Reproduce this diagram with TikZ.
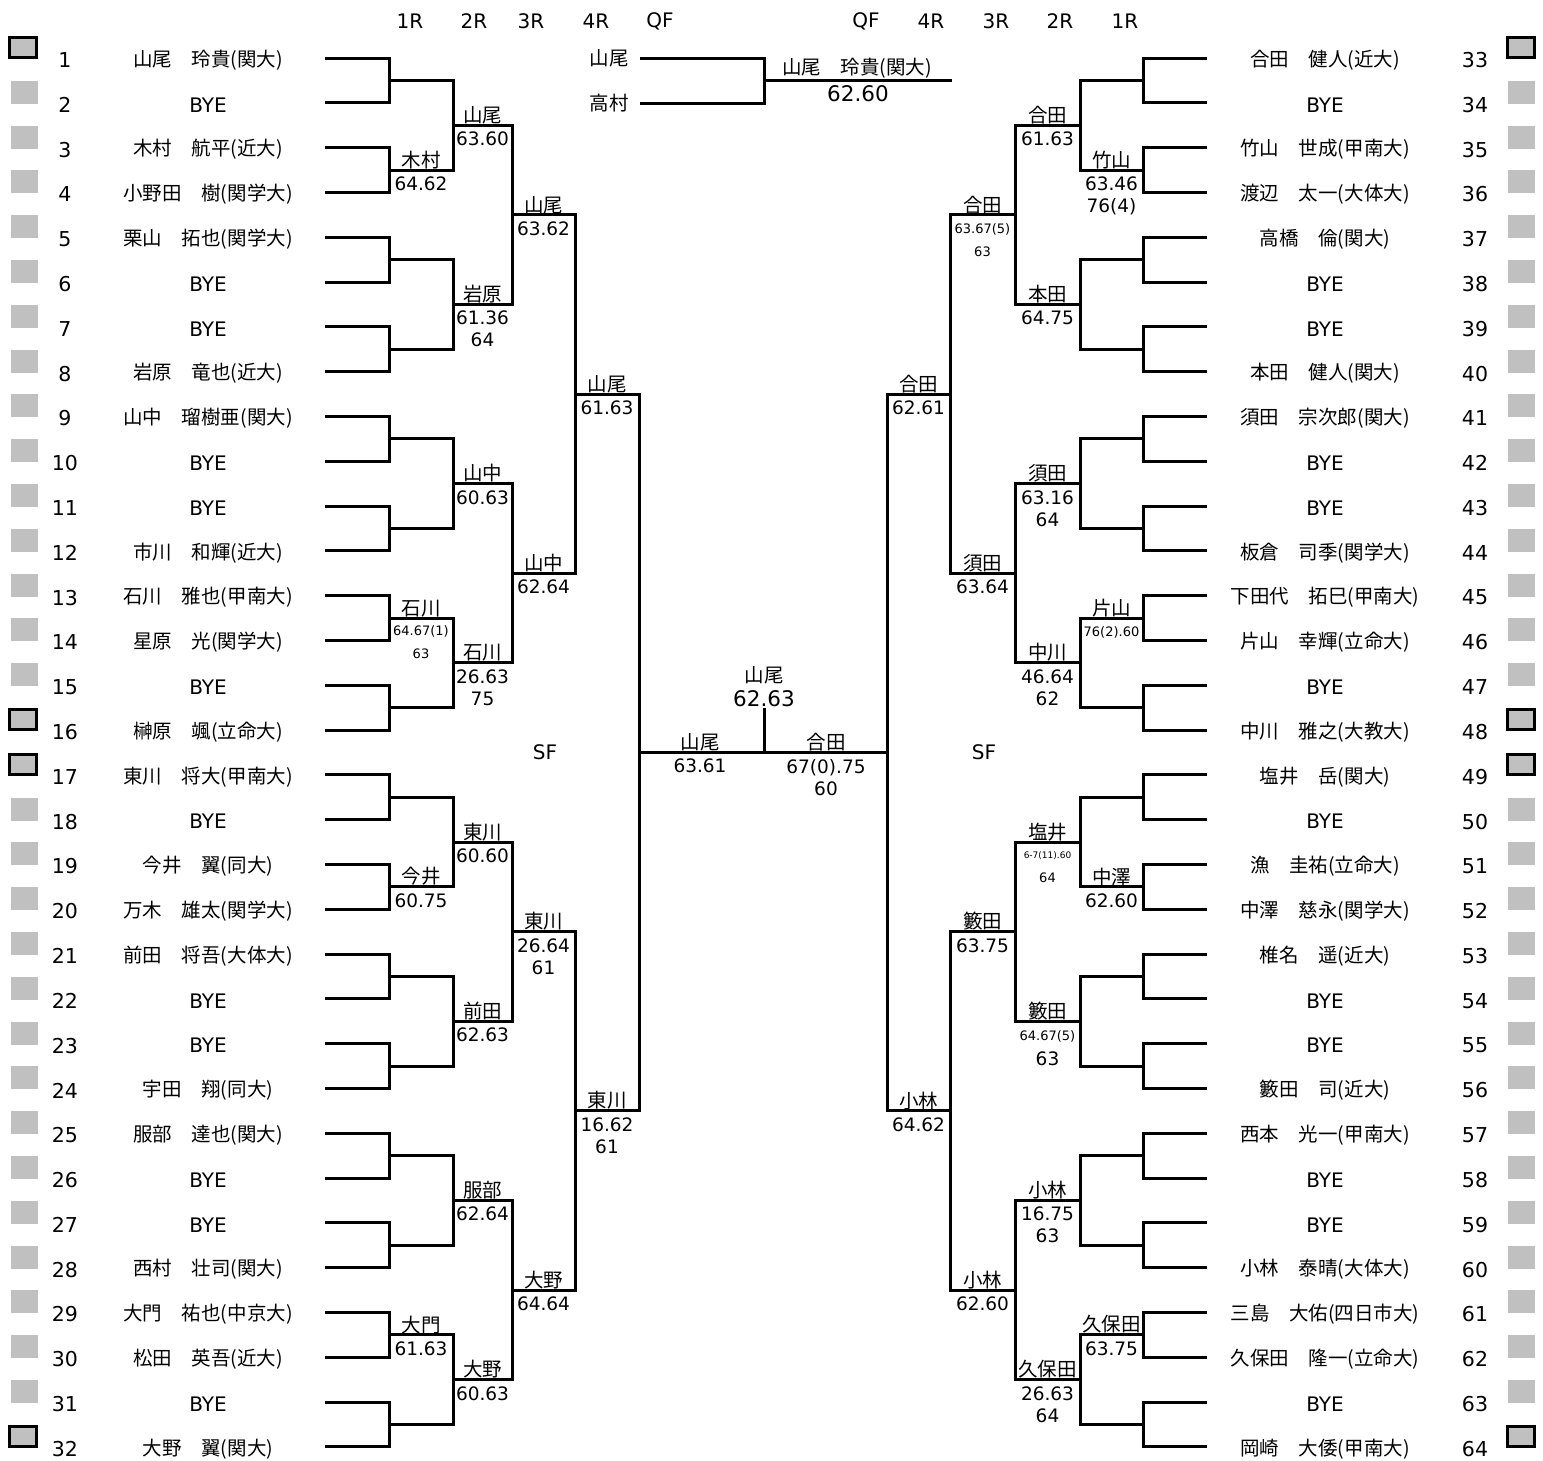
\documentclass[tikz,border=0pt]{standalone}
\usepackage{fontspec}
\setmainfont{DejaVu Sans}
\newfontfamily\jp{Noto Sans CJK JP}
\newfontfamily\dv{DejaVu Sans}
\definecolor{sqgray}{HTML}{C0C0C0}
\newcommand\BYE{{\dv\fontsize{20}{20}\selectfont BYE}}
\newcommand\wl[5]{%
  \node[wname] (#1n) at (#2,#3-1) {#4};
  \node[wscore] (#1s) at (#2,#3+6.5) {#5};}
\tikzset{
  br/.style={line width=3pt, line join=miter, line cap=butt},
  wname/.style={anchor=south, inner sep=0pt, font=\jp\fontsize{19.5}{20}\selectfont},
  wscore/.style={anchor=north, inner sep=0pt, align=center, font=\dv\fontsize{18.5}{22}\selectfont},
  wsmall/.style={anchor=north, inner sep=0pt, align=center, font=\dv\fontsize{13}{23}\selectfont},
  wtiny/.style={anchor=north, inner sep=0pt, font=\dv\fontsize{9}{10}\selectfont},
  player/.style={inner sep=0pt, font=\jp\fontsize{19.5}{21}\selectfont},
  num/.style={inner sep=0pt, font=\dv\fontsize{20.5}{21}\selectfont},
  head/.style={inner sep=0pt, font=\dv\fontsize{20}{21}\selectfont},
  sq/.style={fill=sqgray},
  sqb/.style={fill=sqgray, draw=black, line width=3pt},
}
\begin{document}
\begin{tikzpicture}[x=1pt,y=-1pt]
\useasboundingbox (0,0) rectangle (1543,1460);
\fill[white] (0,0) rectangle (1543,1460);

% headers
\foreach \x/\t/\id in {410/1R/a,474/2R/b,531/3R/c,596/4R/d,660/QF/e,866/QF/f,931/4R/g,996/3R/h,1060/2R/i,1125/1R/j}
  \node[head] (hd\id) at (\x,21) {\t};

% squares
\foreach \i in {1,...,32}{
  \pgfmathsetmacro\y{58+(\i-1)*44.8}
  \fill[sq] (11,\y-22) rectangle (38,\y+1);
  \fill[sq] (1508,\y-22) rectangle (1535,\y+1);
}
\foreach \i in {1,16,17,32}{
  \pgfmathsetmacro\y{58+(\i-1)*44.8}
  \filldraw[sqb] (9.8,\y-20.5) rectangle (36.8,\y-0.5);
  \filldraw[sqb] (1507,\y-20.5) rectangle (1534,\y-0.5);
}

% row numbers
\foreach \i in {1,...,32}{
  \pgfmathsetmacro\y{58+(\i-1)*44.8}
  \pgfmathtruncatemacro\j{\i+32}
  \node[num] (nL\i) at (65,\y+2) {\i};
  \node[num] (nR\j) at (1475,\y+2) {\j};
}

% left players
\foreach \i/\t in {1/山尾　玲貴(関大),2/\BYE,3/木村　航平(近大),4/小野田　樹(関学大),
  5/栗山　拓也(関学大),6/\BYE,7/\BYE,8/岩原　竜也(近大),
  9/山中　瑠樹亜(関大),10/\BYE,11/\BYE,12/市川　和輝(近大),
  13/石川　雅也(甲南大),14/星原　光(関学大),15/\BYE,16/榊原　颯(立命大),
  17/東川　将大(甲南大),18/\BYE,19/今井　翼(同大),20/万木　雄太(関学大),
  21/前田　将吾(大体大),22/\BYE,23/\BYE,24/宇田　翔(同大),
  25/服部　達也(関大),26/\BYE,27/\BYE,28/西村　壮司(関大),
  29/大門　祐也(中京大),30/松田　英吾(近大),31/\BYE,32/大野　翼(関大)}{
  \pgfmathsetmacro\y{58+(\i-1)*44.8}
  \node[player] (pL\i) at (208,\y+2) {\t};
}
% right players
\foreach \i/\t in {1/合田　健人(近大),2/\BYE,3/竹山　世成(甲南大),4/渡辺　太一(大体大),
  5/高橋　倫(関大),6/\BYE,7/\BYE,8/本田　健人(関大),
  9/須田　宗次郎(関大),10/\BYE,11/\BYE,12/板倉　司季(関学大),
  13/下田代　拓巳(甲南大),14/片山　幸輝(立命大),15/\BYE,16/中川　雅之(大教大),
  17/塩井　岳(関大),18/\BYE,19/漁　圭祐(立命大),20/中澤　慈永(関学大),
  21/椎名　遥(近大),22/\BYE,23/\BYE,24/籔田　司(近大),
  25/西本　光一(甲南大),26/\BYE,27/\BYE,28/小林　泰晴(大体大),
  29/三島　大佑(四日市大),30/久保田　隆一(立命大),31/\BYE,32/岡崎　大倭(甲南大)}{
  \pgfmathsetmacro\y{58+(\i-1)*44.8}
  \node[player] (pR\i) at (1325,\y+2) {\t};
}

% bracket level 1
\foreach \k in {1,...,16}{
  \pgfmathsetmacro\ya{58+(\k-1)*89.6}
  \pgfmathsetmacro\yb{\ya+44.8}
  \draw[br] (325,\ya) -- (389,\ya) -- (389,\yb) -- (325,\yb);
  \draw[br] (1207,\ya) -- (1143,\ya) -- (1143,\yb) -- (1207,\yb);
}
% level 2
\foreach \k in {1,...,8}{
  \pgfmathsetmacro\ya{80.4+(\k-1)*179.2}
  \pgfmathsetmacro\yb{\ya+89.6}
  \draw[br] (389,\ya) -- (453,\ya) -- (453,\yb) -- (389,\yb);
  \draw[br] (1143,\ya) -- (1080,\ya) -- (1080,\yb) -- (1143,\yb);
}
% level 3
\foreach \k in {1,...,4}{
  \pgfmathsetmacro\ya{125.2+(\k-1)*358.4}
  \pgfmathsetmacro\yb{\ya+179.2}
  \draw[br] (453,\ya) -- (512,\ya) -- (512,\yb) -- (453,\yb);
  \draw[br] (1080,\ya) -- (1015,\ya) -- (1015,\yb) -- (1080,\yb);
}
% level 4
\foreach \k in {1,2}{
  \pgfmathsetmacro\ya{214.8+(\k-1)*716.8}
  \pgfmathsetmacro\yb{\ya+358.4}
  \draw[br] (512,\ya) -- (575,\ya) -- (575,\yb) -- (512,\yb);
  \draw[br] (1015,\ya) -- (950,\ya) -- (950,\yb) -- (1015,\yb);
}
% level 5
\draw[br] (575,394) -- (639,394) -- (639,1110.8) -- (575,1110.8);
\draw[br] (950,394) -- (887,394) -- (887,1110.8) -- (950,1110.8);
% final
\coordinate (fL) at (639,752.4);
\coordinate (fR) at (887,752.4);
\coordinate (fM) at (764,752.4);
\coordinate (fT) at (764,708);
\draw[br] (fL) -- (fR);
\draw[br] (fT) -- (fM);

% top mini bracket
\node[player] (tA) at (609,58.5) {山尾};
\node[player] (tB) at (609,103.5) {高村};
\draw[br] (640,58) -- (764,58) -- (764,103) -- (640,103);
\draw[br] (764,80.5) -- (952,80.5);
\node[wname, font=\jp\fontsize{19.5}{20}\selectfont] (tWn) at (857,79) {山尾　玲貴(関大)};
\node[wscore, font=\dv\fontsize{21.5}{22}\selectfont] (tWs) at (858,85) {62.60};

% SF labels
\node[head] (sfL) at (545,752.4) {SF};
\node[head] (sfR) at (984,752.4) {SF};

% left 1R
\wl{a1}{421}{170}{木村}{64.62}
\node[wname] (a2n) at (421,617) {石川};
\node[wsmall] (a2s) at (421,625) {64.67(1)\\63};
\wl{a3}{421}{886.8}{今井}{60.75}
\wl{a4}{421}{1334.8}{大門}{61.63}
% left 2R
\wl{b1}{482.5}{125.2}{山尾}{63.60}
\wl{b2}{482.5}{304.4}{岩原}{61.36\\64}
\wl{b3}{482.5}{483.6}{山中}{60.63}
\wl{b4}{482.5}{662.8}{石川}{26.63\\75}
\wl{b5}{482.5}{842}{東川}{60.60}
\wl{b6}{482.5}{1021.2}{前田}{62.63}
\wl{b7}{482.5}{1200.4}{服部}{62.64}
\wl{b8}{482.5}{1379.6}{大野}{60.63}
% left 3R
\wl{c1}{543.5}{214.8}{山尾}{63.62}
\wl{c2}{543.5}{573.2}{山中}{62.64}
\wl{c3}{543.5}{931.6}{東川}{26.64\\61}
\wl{c4}{543.5}{1290}{大野}{64.64}
% left 4R
\wl{d1}{607}{394}{山尾}{61.63}
\wl{d2}{607}{1110.8}{東川}{16.62\\61}
% right 1R
\wl{e1}{1111.5}{170}{竹山}{63.46\\76(4)}
\node[wname] (e2n) at (1111.5,617) {片山};
\node[wsmall] (e2s) at (1111.5,626) {76(2).60};
\wl{e3}{1111.5}{886.8}{中澤}{62.60}
\wl{e4}{1111.5}{1334.8}{久保田}{63.75}
% right 2R
\wl{f1}{1047.5}{125.2}{合田}{61.63}
\wl{f2}{1047.5}{304.4}{本田}{64.75}
\wl{f3}{1047.5}{483.6}{須田}{63.16\\64}
\wl{f4}{1047.5}{662.8}{中川}{46.64\\62}
\node[wname] (f5n) at (1047.5,841) {塩井};
\node[wtiny] (f5s) at (1047.5,851.5) {6-7(11).60};
\node[wsmall] (f5t) at (1047.5,872.5) {64};
\node[wname] (f6n) at (1047.5,1020.2) {籔田};
\node[wsmall] (f6s) at (1047.5,1030) {64.67(5)};
\node[wscore] (f6t) at (1047.5,1051.5) {63};
\wl{f7}{1047.5}{1200.4}{小林}{16.75\\63}
\wl{f8}{1047.5}{1379.6}{久保田}{26.63\\64}
% right 3R
\node[wname] (g1n) at (982.5,213.8) {合田};
\node[wsmall] (g1s) at (982.5,223) {63.67(5)\\63};
\wl{g2}{982.5}{573.2}{須田}{63.64}
\wl{g3}{982.5}{931.6}{籔田}{63.75}
\wl{g4}{982.5}{1290}{小林}{62.60}
% right 4R
\wl{h1}{918.5}{394}{合田}{62.61}
\wl{h2}{918.5}{1110.8}{小林}{64.62}
% final
\wl{i1}{700}{752.4}{山尾}{63.61}
\wl{i2}{826}{752.4}{合田}{67(0).75\\60}
\node[wname] (champn) at (764,684.5) {山尾};
\node[wscore, font=\dv\fontsize{21.5}{22}\selectfont] (champs) at (764,690) {62.63};
\end{tikzpicture}
\end{document}
